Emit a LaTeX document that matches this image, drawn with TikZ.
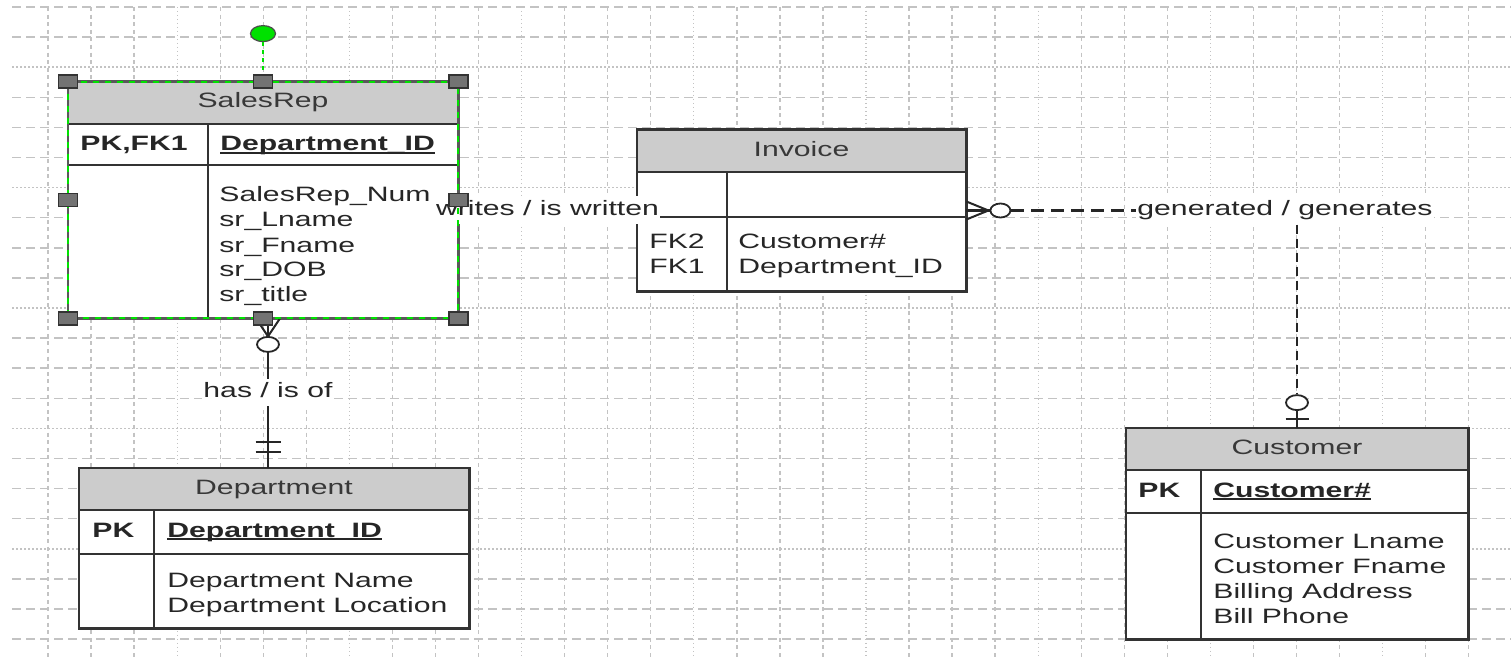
\documentclass[tikz,border=0pt]{standalone}
\usepackage{fontspec}
\setmainfont{Liberation Sans}
\usetikzlibrary{shapes.geometric,calc}
\definecolor{selgreen}{RGB}{0,225,0}
\definecolor{gridgray}{RGB}{195,195,195}
\newcommand\erfont{\fontsize{10.4}{12.5}\selectfont}
\newcommand\sx[1]{\scalebox{1.45}[1]{#1}}
\newcommand\keyul[1]{\setbox0=\hbox{#1}\rlap{\rule[-1.3pt]{\wd0}{0.6pt}}\box0}
\newcommand\attrrows[1]{\begin{tabular}[t]{@{}l@{}}#1\end{tabular}}
\tikzset{
  gridh/.style={draw=gridgray, line width=0.75pt, dash pattern=on 4.5pt off 2.5pt},
  gridhdot/.style={draw=gridgray, line width=0.7pt, dash pattern=on 0.8pt off 1.2pt},
  gridv/.style={draw=gridgray, line width=0.7pt, dash pattern=on 2pt off 1.8pt},
  gridvdot/.style={draw=gridgray, line width=0.6pt, dash pattern=on 0.7pt off 1.3pt},
  entbox/.style={rectangle, fill=white, inner sep=0pt},
  hdr/.style={fill=black!20},
  eline/.style={draw=black!80, line width=1pt},
  eborder/.style={draw=black!80, line width=1.1pt},
  txt/.style={inner sep=0pt, anchor=base west, font=\erfont, text=black!85},
  htxt/.style={inner sep=0pt, anchor=base, font=\erfont, text=black!78},
  lbl/.style={fill=white, inner sep=0.5pt, anchor=base, font=\erfont, text=black!85},
  conn/.style={draw=black!85, line width=1pt},
  connh/.style={conn, line width=1.1pt, dash pattern=on 6.5pt off 3.5pt},
  connv/.style={conn, line width=1.1pt, dash pattern=on 4.5pt off 2.5pt},
  ocirc/.style={ellipse, draw=black!85, line width=0.9pt, fill=white, minimum width=11pt, minimum height=7.5pt, inner sep=0pt},
  handle/.style={rectangle, draw=black!80, fill=black!55, line width=0.6pt, minimum width=9.5pt, minimum height=6.5pt, inner sep=0pt},
  rothandle/.style={ellipse, draw=black!70, fill=selgreen, line width=0.6pt, minimum width=12.5pt, minimum height=8pt, inner sep=0pt},
}
\begin{document}
\begin{tikzpicture}[x=0.5pt, y=-0.5pt]
\useasboundingbox (0,0) rectangle (1511,658);
\fill[white] (0,0) rectangle (1511,658);
% grid
\foreach \k in {0,...,21}{
  \pgfmathsetmacro\yy{7+30.1*\k}
  \pgfmathtruncatemacro\mm{mod(\k,4)}
  \ifnum\mm=2\relax
    \draw[gridhdot] (12,\yy) -- (1511,\yy);
  \else
    \draw[gridh] (12,\yy) -- (1511,\yy);
  \fi
}
\foreach \k in {1,...,34}{
  \pgfmathsetmacro\xx{5+43.05*\k}
  \pgfmathtruncatemacro\mm{mod(\k,4)}
  \ifnum\mm=0\relax
    \draw[gridvdot] (\xx,7) -- (\xx,658);
  \else
    \draw[gridv] (\xx,7) -- (\xx,658);
  \fi
}

% ---------- SalesRep
\node[entbox, minimum width=195pt, minimum height=118pt] (sr) at (263,200) {};
\fill[hdr] (sr.north west) rectangle (sr.east |- 0,124);
\draw[eline] (sr.west |- 0,124) -- (sr.east |- 0,124);
\draw[eline] (sr.west |- 0,165) -- (sr.east |- 0,165);
\draw[eline] (208,124) -- (208,318);
\draw[eborder, draw=black!65] (sr.north west) rectangle (sr.south east);
\node[htxt] (srT) at (263,108) {\sx{SalesRep}};
\node[txt] (srK) at (80,151) {\sx{\textbf{PK,FK1}}};
\node[txt] (srKA) at (220,151) {\sx{\keyul{\textbf{Department\_ID}}}};
\node[txt] (srA) at (219,202) {\sx{\attrrows{SalesRep\_Num\\sr\_Lname\\sr\_Fname\\sr\_DOB\\sr\_title}}};

% ---------- Invoice
\node[entbox, minimum width=164.5pt, minimum height=80.5pt] (inv) at (801.5,210.5) {};
\fill[hdr] (inv.north west) rectangle (inv.east |- 0,172);
\draw[eline] (inv.west |- 0,172) -- (inv.east |- 0,172);
\draw[eline] (inv.west |- 0,217) -- (inv.east |- 0,217);
\draw[eline] (727,172) -- (727,291);
\draw[eborder] (inv.north west) rectangle (inv.south east);
\node[htxt] (invT) at (801.5,156) {\sx{Invoice}};
\node[txt] (invF) at (649,249) {\sx{\attrrows{FK2\\FK1}}};
\node[txt] (invA) at (738,249) {\sx{\attrrows{Customer\#\\Department\_ID}}};

% ---------- Department
\node[entbox, minimum width=195pt, minimum height=80pt] (dep) at (274,548) {};
\fill[hdr] (dep.north west) rectangle (dep.east |- 0,510);
\draw[eline] (dep.west |- 0,510) -- (dep.east |- 0,510);
\draw[eline] (dep.west |- 0,554) -- (dep.east |- 0,554);
\draw[eline] (154,510) -- (154,628);
\draw[eborder] (dep.north west) rectangle (dep.south east);
\node[htxt] (depT) at (274,494) {\sx{Department}};
\node[txt] (depK) at (92,537) {\sx{\textbf{PK}}};
\node[txt] (depKA) at (167,537) {\sx{\keyul{\textbf{Department\_ID}}}};
\node[txt] (depA) at (167,587) {\sx{\attrrows{Department Name\\Department Location}}};

% ---------- Customer
\node[entbox, minimum width=171pt, minimum height=105.5pt] (cu) at (1297,533.5) {};
\fill[hdr] (cu.north west) rectangle (cu.east |- 0,470);
\draw[eline] (cu.west |- 0,470) -- (cu.east |- 0,470);
\draw[eline] (cu.west |- 0,513) -- (cu.east |- 0,513);
\draw[eline] (1201,470) -- (1201,639);
\draw[eborder] (cu.north west) rectangle (cu.south east);
\node[htxt] (cuT) at (1297,454) {\sx{Customer}};
\node[txt] (cuK) at (1138,497) {\sx{\textbf{PK}}};
\node[txt] (cuKA) at (1213,497) {\sx{\keyul{\textbf{Customer\#}}}};
\node[txt] (cuA) at (1213,548) {\sx{\attrrows{Customer Lname\\Customer Fname\\Billing Address\\Bill Phone}}};

% ---------- writes / is written
\draw[conn] (sr.east |- inv.west) -- (inv.west);
\node[lbl, yshift=-2.25pt] (wl) at ($(sr.east |- inv.west)!0.5!(inv.west)$) {\sx{\strut writes / is written}};

% ---------- has / is of
\coordinate (hasTop) at ([xshift=2.5pt]sr.south);
\coordinate (hasBot) at (hasTop |- dep.north);
\draw[conn] (hasTop) -- (hasBot);
\draw[conn] (hasTop) ++(-12,0) -- ++(12,18) -- ++(12,-18);
\node[ocirc] (c1) at ([yshift=-13pt]hasTop) {};
\node[lbl] (hl) at ([yshift=-39.5pt]hasTop) {\sx{\strut has / is of}};
\draw[conn] ([yshift=13pt]hasBot) ++(-12.5,0) -- ++(25,0);
\draw[conn] ([yshift=8pt]hasBot) ++(-12.5,0) -- ++(25,0);

% ---------- generated / generates
\node[ocirc, minimum width=10pt, minimum height=7pt] (c2) at ([xshift=17pt]inv.east) {};
\draw[conn] (inv.east) ++(0,-9) -- ++(22,9) -- ++(-22,9);
\draw[conn] (inv.east) -- (c2.west);
\coordinate (gc) at (c2.east -| cu.north);
\draw[connh] (c2.east) -- (gc);
\node[ocirc] (c3) at ([yshift=12.5pt]cu.north) {};
\draw[connv] (gc) -- (c3.north);
\draw[conn] (c3.south) -- (cu.north);
\draw[conn] ([yshift=4.5pt]cu.north) ++(-11.5,0) -- ++(23,0);
\node[lbl] (gl) at ([xshift=-6pt, yshift=-2.25pt]gc) {\sx{\strut generated / generates}};

% ---------- selection overlay on SalesRep
\draw[selgreen, line width=1pt, dash pattern=on 3pt off 3pt] (sr.north west) rectangle (sr.south east);
\node[rothandle] (rot) at ([yshift=24pt]sr.north) {};
\draw[selgreen, line width=0.9pt, dash pattern=on 2pt off 2pt] (rot.south) -- (sr.north);
\foreach \a [count=\i] in {north west, north, north east, west, east, south west, south, south east}
  \node[handle] (hd\i) at (sr.\a) {};
\end{tikzpicture}
\end{document}
